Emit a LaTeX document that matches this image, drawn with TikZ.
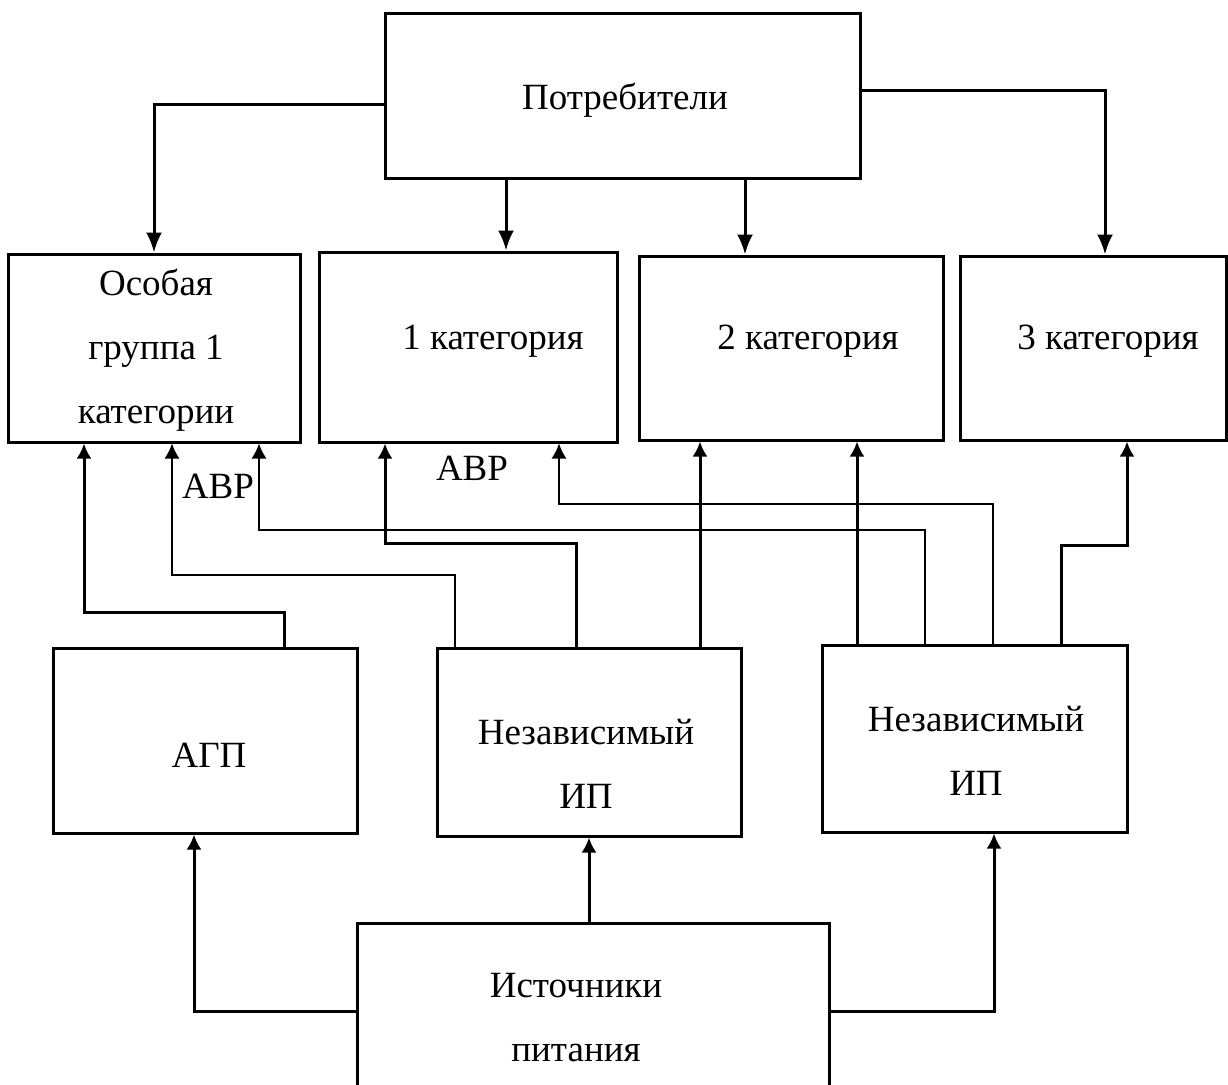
\documentclass[tikz,border=0pt]{standalone}
\usepackage{fontspec}
\setmainfont{Liberation Serif}
\usetikzlibrary{arrows.meta}

\begin{document}
\begin{tikzpicture}[
  x=0.5pt, y=-0.5pt,
  box/.style 2 args = {draw, line width=1.5pt, minimum width=#1*0.5pt, minimum height=#2*0.5pt, inner sep=0pt},
  lbl/.style = {font=\fontsize{18.5}{32}\selectfont, align=center},
  bigarrow/.style = {-{Latex[length=10pt,width=8pt]}, line width=1.5pt},
  arrow/.style = {-{Latex[length=7.5pt,width=7.5pt]}, line width=1.5pt},
  thinarrow/.style = {-{Latex[length=7.5pt,width=7.5pt]}, line width=0.75pt}]
  \clip (0,0) rectangle (1228,1084);

  % потребители
  \node[box={475}{165}] (potr) at (622.5,95.5) {};
  \node[lbl] (potrt) at (625,100) {Потребители};

  % категории
  \node[box={292}{188}] (osob) at (154,348) {};
  \node[lbl] (osobt) at (156,350) {Особая\\группа 1\\категории};
  \node[box={298}{190}] (k1) at (468,347) {};
  \node[lbl] (k1t) at (493,341) {1 категория};
  \node[box={304}{184}] (k2) at (791,348) {};
  \node[lbl] (k2t) at (808,341) {2 категория};
  \node[box={266}{184}] (k3) at (1093,348) {};
  \node[lbl] (k3t) at (1108,341) {3 категория};

  % источники
  \node[box={304}{185}] (agp) at (205,740.5) {};
  \node[lbl] (agpt) at (209,755) {АГП};
  \node[box={304}{188}] (nip1) at (589,742) {};
  \node[lbl] (nip1t) at (586,764) {Независимый\\ИП};
  \node[box={305}{187}] (nip2) at (974.5,738.5) {};
  \node[lbl] (nip2t) at (976,751) {Независимый\\ИП};
  \node[box={472}{177}] (ist) at (593,1011.5) {};
  \node[lbl] (istt) at (576,1018) {Источники\\питания};

  % подписи АВР
  \node[lbl] (avr1) at (218,486) {АВР};
  \node[lbl] (avr2) at (472,468) {АВР};

  % от потребителей
  \draw[bigarrow] ([yshift=-4.25pt]potr.west) -| (osob.north);
  \draw[bigarrow] ([yshift=2.75pt]potr.east) -| ([xshift=6pt]k3.north);
  \draw[bigarrow] (potr.south -| 506,0) -- (k1.north -| 506,0);
  \draw[bigarrow] (potr.south -| 745,0) -- (k2.north -| 745,0);

  % питание
  \draw[arrow] (ist.west) -| ([xshift=-5.5pt]agp.south);
  \draw[arrow] (ist.north -| nip1.south) -- (nip1.south);
  \draw[arrow] (ist.east) -| ([xshift=9.75pt]nip2.south);

  % к категориям
  \draw[arrow] (agp.north -| 284,0) |- (84,612) -- (osob.south -| 84,0);
  \draw[thinarrow] (nip1.north -| 455,0) |- (172,575) -- (osob.south -| 172,0);
  \draw[arrow] (nip1.north -| 576,0) |- (385,543) -- (k1.south -| 385,0);
  \draw[arrow] (nip1.north -| 700,0) -- (k2.south -| 700,0);
  \draw[arrow] (nip2.north -| 857,0) -- (k2.south -| 857,0);
  \draw[thinarrow] (nip2.north -| 925,0) |- (259,530) -- (osob.south -| 259,0);
  \draw[thinarrow] (nip2.north -| 993,0) |- (559,504) -- (k1.south -| 559,0);
  \draw[arrow] (nip2.north -| 1061,0) |- (1127,545) -- (k3.south -| 1127,0);

\end{tikzpicture}
\end{document}
